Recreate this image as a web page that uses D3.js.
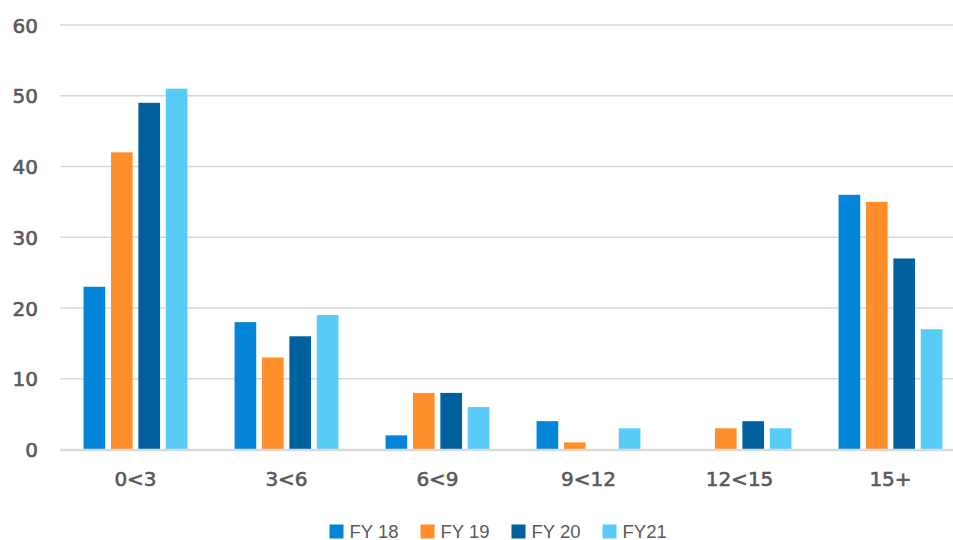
<!DOCTYPE html>
<html><head><meta charset="utf-8">
<script src="https://cdn.jsdelivr.net/npm/d3@7"></script>
<style>body{margin:0;background:#fff;overflow:hidden}</style>
</head><body>
<svg id="c" width="953" height="540"></svg>
<script>
const categories = ["0<3","3<6","6<9","9<12","12<15","15+"];
const seriesNames = ["FY 18","FY 19","FY 20","FY21"];
const fy18 = [23,18,2,4,0,36];
const fy19 = [42,13,8,1,3,35];
const fy20 = [49,16,8,0,4,27];
const fy21 = [51,19,6,3,3,17];
const yTicks = [0,10,20,30,40,50,60];
const colors = ["#0284D9","#FF8E2B","#01609E","#58CCF7"];

(function(){
const values = [fy18, fy19, fy20, fy21];
const svg = d3.select("#c");
const pLeft = 60, pRight = 966, pTop = 25, pBottom = 449.5;
const x = d3.scaleBand().domain(categories).range([pLeft,pRight]).paddingInner(0).paddingOuter(0);
const xs = d3.scaleBand().domain(seriesNames).range([0, x.bandwidth()]).paddingInner(0.21).paddingOuter(0.86);
const y = d3.scaleLinear().domain([0,60]).range([pBottom, pTop]);

svg.append("g").selectAll("line").data(yTicks.filter(d=>d>0)).join("line")
  .attr("x1", pLeft).attr("x2", 953).attr("y1", d=>y(d)).attr("y2", d=>y(d))
  .attr("stroke","#d9d9d9").attr("stroke-width",1.5);

const data = [];
categories.forEach((c,i)=>seriesNames.forEach((s,j)=>data.push({c,s,j,v:values[j][i]})));
svg.append("g").selectAll("rect").data(data.filter(d=>d.v>0)).join("rect")
  .attr("x", d=>x(d.c)+xs(d.s)).attr("width", xs.bandwidth())
  .attr("y", d=>y(d.v)).attr("height", d=>y(0)-y(d.v))
  .attr("fill", d=>colors[d.j]);

svg.append("line").attr("x1",pLeft).attr("x2",953).attr("y1",y(0)+0.5).attr("y2",y(0)+0.5)
  .attr("stroke","#d9d9d9").attr("stroke-width",2.5);

const yAxis = d3.axisLeft(y).tickValues(yTicks).tickSize(0).tickPadding(0);
const ya = svg.append("g").attr("transform","translate(38,0)").call(yAxis);
ya.select(".domain").remove();
ya.selectAll("text").attr("font-family","DejaVu Sans").attr("font-size",20).attr("fill","#595959")
  .attr("stroke","#595959").attr("stroke-width",0.6).attr("dy","0.36em");

const xAxis = d3.axisBottom(x).tickSize(0).tickPadding(0);
const xa = svg.append("g").attr("transform","translate(0,472)").call(xAxis);
xa.select(".domain").remove();
xa.selectAll("text").attr("font-family","DejaVu Sans").attr("font-size",20).attr("fill","#595959")
  .attr("stroke","#595959").attr("stroke-width",0.6).attr("dy","0.71em");

const lg = svg.append("g");
const lx = [329.5, 420.5, 511.5, 602.5];
seriesNames.forEach((s,j)=>{
  lg.append("rect").attr("x",lx[j]).attr("y",524.5).attr("width",14).attr("height",14).attr("fill",colors[j]);
  lg.append("text").attr("x",lx[j]+20).attr("y",537.5).attr("font-family","Liberation Sans").attr("font-size",18.5).attr("fill","#595959").text(s);
});
})();
</script>
</body></html>
